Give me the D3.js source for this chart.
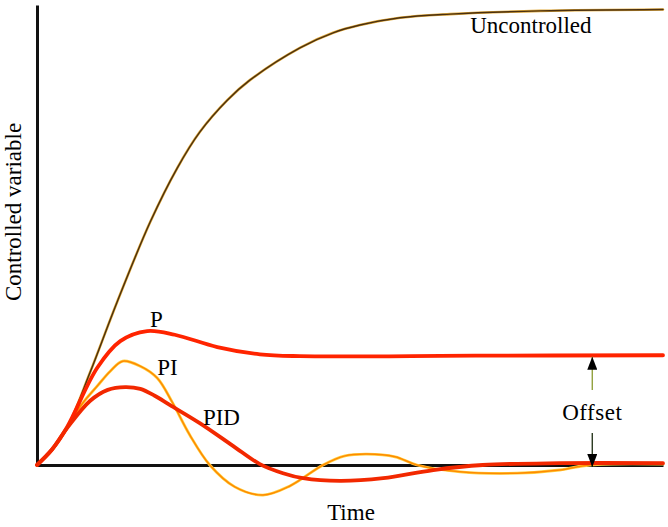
<!DOCTYPE html>
<html>
<head>
<meta charset="utf-8">
<script src="https://cdn.jsdelivr.net/npm/d3@7/dist/d3.min.js"></script>
<style>
  body { margin: 0; background: #fff; }
</style>
</head>
<body>
<svg id="chart"></svg>
<script>
// time (0..100) and controlled variable (0..100)
var uncontrolled = [
  [0, 0], [2.4, 3.3], [4.8, 8.1], [8.5, 20.4], [12.8, 35.8], [18.1, 53.4],
  [22.4, 65.2], [26.0, 73.1], [30.4, 80.1], [34.0, 84.5], [42.0, 91.6],
  [47.3, 94.9], [51.6, 96.6], [58.0, 98.2], [66.0, 99.0], [80.4, 99.7],
  [100, 100]
];
var pCurve = [
  [0, 0], [2.4, 3.4], [4.8, 8.3], [9.6, 21.3], [13.3, 27.2], [17.6, 29.4],
  [22.0, 28.6], [28.8, 25.9], [35.6, 24.3], [42.0, 23.9], [70, 24.0], [100, 24.1]
];
var piCurve = [
  [0, 0], [2.4, 3.4], [4.8, 8.3], [7.2, 13.4], [9.6, 17.3], [11.7, 20.6],
  [13.7, 22.8], [16.5, 21.7], [19.2, 19.1], [21.6, 13.8], [24.4, 6.6],
  [27.6, 0], [31.6, -4.8], [36.1, -6.6], [40.4, -4.6], [45.7, 0], [49.2, 2.0],
  [52.7, 2.4], [57.2, 1.8], [60.7, 0], [67.6, -1.5], [76.7, -1.8],
  [83.5, -1.1], [88.3, 0], [100, 0.2]
];
var pidCurve = [
  [0, 0], [2.4, 3.4], [4.8, 8.1], [8.5, 14.1], [11.3, 16.5], [14.1, 17.1],
  [16.5, 16.7], [18.8, 15.2], [21.2, 13.2], [26.0, 9.2], [31.3, 4.2],
  [35.6, 0.2], [39.3, -1.8], [42.5, -2.9], [48.4, -3.5], [55.3, -2.9],
  [63.3, -1.1], [71.2, 0], [83.5, 0.4], [100, 0.4]
];
var offsetTime = 88.7;
var labels = [
  { text: 'Uncontrolled', t: 69.2, v: 94.9 },
  { text: 'P', t: 18.05, v: 30.3 },
  { text: 'PI', t: 19.2, v: 19.8 },
  { text: 'PID', t: 26.5, v: 8.8 }
];

var width = 668, height = 527;
var font = '"Liberation Serif", "Times New Roman", Times, serif';
var svg = d3.select('#chart').attr('width', width).attr('height', height)
  .attr('font-family', font);

var x = d3.scaleLinear().domain([0, 100]).range([37, 663]);
var y = d3.scaleLinear().domain([0, 101]).range([465, 5]);

var defs = svg.append('defs');
defs.append('marker')
  .attr('id', 'head')
  .attr('viewBox', '0 0 13 10')
  .attr('refX', 13).attr('refY', 5)
  .attr('markerWidth', 13).attr('markerHeight', 10)
  .attr('markerUnits', 'userSpaceOnUse')
  .attr('orient', 'auto')
  .append('path').attr('d', 'M0,0L13,5L0,10Z').attr('fill', '#000');

// axes, no ticks
svg.append('g').attr('transform', 'translate(0,' + y(0) + ')')
  .call(d3.axisBottom(x).tickValues([]).tickSizeOuter(0));
svg.append('g').attr('transform', 'translate(' + x(0) + ',0)')
  .call(d3.axisLeft(y).tickValues([]).tickSizeOuter(0));
svg.selectAll('.domain').attr('stroke', '#111').attr('stroke-width', 3);

var line = d3.line()
  .x(function(d) { return x(d[0]); })
  .y(function(d) { return y(d[1]); })
  .curve(d3.curveCatmullRom.alpha(0.5));

function drawCurve(data, color, w) {
  svg.append('path')
    .datum(data)
    .attr('d', line)
    .attr('fill', 'none')
    .attr('stroke', color)
    .attr('stroke-width', w)
    .attr('stroke-linecap', 'round');
}

drawCurve(uncontrolled, '#e0a838', 2.6);
drawCurve(uncontrolled, '#4a3010', 1.4);
drawCurve(piCurve, '#ffd040', 2.8);
drawCurve(piCurve, '#ff8a00', 1.5);
drawCurve(pCurve, '#ff2400', 3.8);
drawCurve(pidCurve, '#f22800', 3.8);

// offset arrows
var pFinal = pCurve[pCurve.length - 1][1];
var mid = pFinal / 2;
svg.append('line')
  .attr('x1', x(offsetTime)).attr('x2', x(offsetTime))
  .attr('y1', y(mid + 4.4)).attr('y2', y(pFinal) + 1.5)
  .attr('stroke', '#8a9a30').attr('stroke-width', 1.3)
  .attr('marker-end', 'url(#head)');
svg.append('line')
  .attr('x1', x(offsetTime)).attr('x2', x(offsetTime))
  .attr('y1', y(mid - 5)).attr('y2', y(0) + 2)
  .attr('stroke', '#1a2a10').attr('stroke-width', 1.3)
  .attr('marker-end', 'url(#head)');

svg.append('text')
  .attr('x', x(offsetTime)).attr('y', y(mid) + 10)
  .attr('text-anchor', 'middle')
  .attr('font-size', 23)
  .attr('letter-spacing', 0.5)
  .text('Offset');

svg.selectAll('.lbl')
  .data(labels)
  .enter().append('text')
  .attr('class', 'lbl')
  .attr('x', function(d) { return x(d.t); })
  .attr('y', function(d) { return y(d.v); })
  .attr('font-size', 23)
  .text(function(d) { return d.text; });

// axis titles
svg.append('text')
  .attr('x', 351)
  .attr('y', 520)
  .attr('text-anchor', 'middle')
  .attr('font-size', 23)
  .text('Time');

svg.append('text')
  .attr('transform', 'translate(21,212) rotate(-90)')
  .attr('text-anchor', 'middle')
  .attr('font-size', 23)
  .text('Controlled variable');
</script>
</body>
</html>
